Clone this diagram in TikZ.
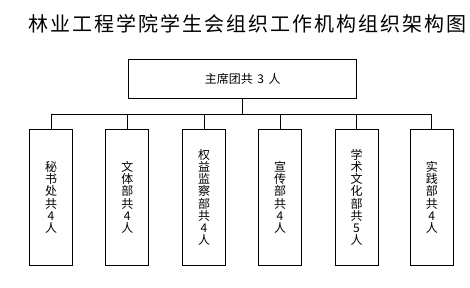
\documentclass[tikz,border=0pt]{standalone}
\usepackage{fontspec}
\usepackage{xcolor}
\usepackage{tikz}
\usetikzlibrary{positioning}
\newfontfamily\cjkfont{Noto Sans CJK SC}
\newfontfamily\cjktitle[LetterSpace=10]{Noto Sans CJK SC}

\begin{document}
\begin{tikzpicture}[x=1pt, y=-1pt, line width=0.8pt,
    orgbox/.style={draw, thick, minimum width=228pt, minimum height=39pt, inner sep=0pt, font=\cjkfont\fontsize{12}{12}\selectfont},
    deptbox/.style={draw, thick, minimum width=43pt, minimum height=136pt, inner sep=0pt, align=center, font=\cjkfont\fontsize{12}{12.2}\selectfont}]
  \useasboundingbox (0,0) rectangle (470,287);
  \node[font=\cjktitle\fontsize{20}{20}\selectfont] (title) at (247,23.7) {林业工程学院学生会组织工作机构组织架构图};
  \node[orgbox] (zxt) at (242.7,78.8) {主席团共\hspace{4.5pt}3\hspace{4.5pt}人};
  \coordinate (bus) at (242.7,114.7);
  \foreach \i/\x/\name in {
    1/51/{秘\\书\\处\\共\\4\\人},
    2/127.3/{文\\体\\部\\共\\4\\人},
    3/204/{权\\益\\监\\察\\部\\共\\4\\人},
    4/280/{宣\\传\\部\\共\\4\\人},
    5/356.5/{学\\术\\文\\化\\部\\共\\5\\人},
    6/431.8/{实\\践\\部\\共\\4\\人}}{
    \node[deptbox] (dept\i) at (\x,197.4) {\name};
    \draw (dept\i.north) -- (dept\i.north |- bus);
  }
  \draw (zxt.south) -- (bus);
  \draw (dept1.north |- bus) -- (dept6.north |- bus);
\end{tikzpicture}
\end{document}
